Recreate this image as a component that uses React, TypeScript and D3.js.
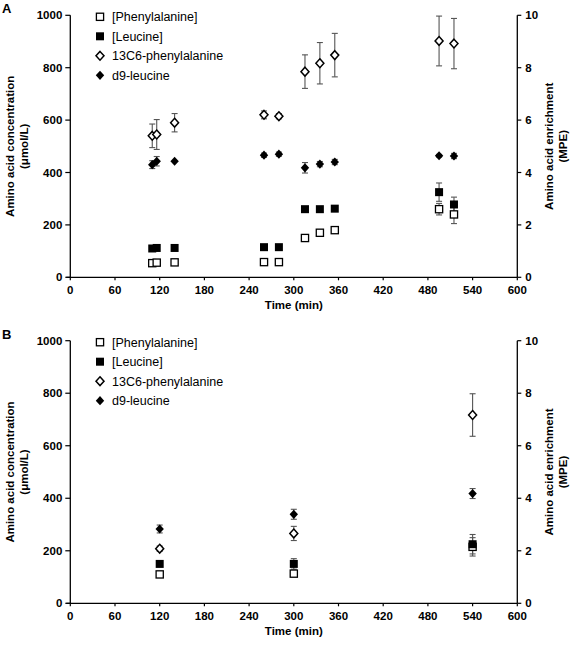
import React from "react";
import * as d3 from "d3";

// ---------- Data ----------
const seriesNames = ["[Phenylalanine]", "[Leucine]", "13C6-phenylalanine", "d9-leucine"];
const xTicks = [0, 60, 120, 180, 240, 300, 360, 420, 480, 540, 600];
const leftTicks = [0, 200, 400, 600, 800, 1000];
const rightTicks = [0, 2, 4, 6, 8, 10];

// Panel A
const timesA = [110, 116, 140, 260, 280, 315, 335, 355, 495, 515];
const pheA = [54, 56, 57, 58, 58, 150, 170, 180, 260, 240];
const pheAErr = [0, 0, 0, 0, 0, 0, 0, 0, 22, 35];
const leuA = [110, 112, 112, 115, 115, 260, 260, 262, 325, 278];
const leuAErr = [0, 0, 0, 0, 0, 0, 0, 8, 35, 28];
const c13A = [5.4, 5.45, 5.9, 6.2, 6.15, 7.85, 8.17, 8.48, 9.02, 8.92];
const c13AErr = [0.45, 0.57, 0.35, 0.15, 0.1, 0.64, 0.79, 0.83, 0.95, 0.96];
const d9A = [4.3, 4.43, 4.43, 4.66, 4.7, 4.18, 4.32, 4.4, 4.64, 4.63];
const d9AErr = [0.15, 0.18, 0, 0.08, 0.08, 0.2, 0.1, 0.1, 0.05, 0.1];

// Panel B
const timesB = [120, 300, 540];
const pheB = [110, 113, 215];
const pheBErr = [0, 0, 35];
const leuB = [150, 150, 225];
const leuBErr = [0, 20, 37];
const c13B = [2.08, 2.66, 7.17];
const c13BErr = [0.1, 0.27, 0.81];
const d9B = [2.83, 3.39, 4.18];
const d9BErr = [0.15, 0.19, 0.19];

const FONT = "'Liberation Sans', Arial, Helvetica, sans-serif";
const ERR_COLOR = "#555";

type Pt = { t: number; v: number; e: number };
const zip = (t: number[], v: number[], e: number[]): Pt[] => t.map((x, i) => ({ t: x, v: v[i], e: e[i] }));

function Marker({ kind, x, y }: { kind: number; x: number; y: number }) {
  if (kind === 0)
    return <rect x={x - 3.6} y={y - 3.6} width={7.2} height={7.2} fill="#fff" stroke="#000" strokeWidth={1.3} />;
  if (kind === 1) return <rect x={x - 4} y={y - 4} width={8} height={8} fill="#000" />;
  if (kind === 2)
    return (
      <path
        d={`M${x},${y - 4.4}L${x + 4},${y}L${x},${y + 4.4}L${x - 4},${y}Z`}
        fill="#fff"
        stroke="#000"
        strokeWidth={1.5}
      />
    );
  return <path d={`M${x},${y - 4.6}L${x + 4.2},${y}L${x},${y + 4.6}L${x - 4.2},${y}Z`} fill="#000" />;
}

function Panel({
  label,
  top,
  bottom,
  series,
}: {
  label: string;
  top: number;
  bottom: number;
  series: Pt[][];
}) {
  const left = 70.3;
  const right = 517.3;
  const x = d3.scaleLinear().domain([0, 600]).range([left, right]);
  const yL = d3.scaleLinear().domain([0, 1000]).range([bottom, top]);
  const yR = d3.scaleLinear().domain([0, 10]).range([bottom, top]);
  const mid = (top + bottom) / 2;
  const scales = [yL, yL, yR, yR];

  return (
    <g fontFamily={FONT}>
      <text x={2} y={top - 2} fontSize={13} fontWeight="bold">
        {label}
      </text>
      {/* axes */}
      <line x1={left} x2={left} y1={top} y2={bottom} stroke="#000" strokeWidth={1.3} />
      <line x1={right} x2={right} y1={top} y2={bottom} stroke="#000" strokeWidth={1.3} />
      <line x1={left - 4} x2={right} y1={bottom} y2={bottom} stroke="#000" strokeWidth={1.3} />
      {leftTicks.map((t) => (
        <g key={"l" + t}>
          <line x1={left - 5} x2={left} y1={yL(t)} y2={yL(t)} stroke="#000" strokeWidth={1.2} />
          <text x={left - 8} y={yL(t)} dy="0.35em" textAnchor="end" fontSize={11.5} fontWeight="bold">
            {t}
          </text>
        </g>
      ))}
      {rightTicks.map((t) => (
        <g key={"r" + t}>
          <line x1={right} x2={right + 4} y1={yR(t)} y2={yR(t)} stroke="#000" strokeWidth={1.2} />
          <text x={right + 8} y={yR(t)} dy="0.35em" textAnchor="start" fontSize={11.5} fontWeight="bold">
            {t}
          </text>
        </g>
      ))}
      {xTicks.map((t) => (
        <g key={"x" + t}>
          <line x1={x(t)} x2={x(t)} y1={bottom} y2={bottom + 3} stroke="#000" strokeWidth={1.2} />
          <text x={x(t)} y={bottom + 17} textAnchor="middle" fontSize={11.5} fontWeight="bold">
            {t}
          </text>
        </g>
      ))}
      {/* axis titles */}
      <text x={(left + right) / 2} y={bottom + 32} textAnchor="middle" fontSize={11.5} fontWeight="bold">
        Time (min)
      </text>
      <text
        transform={`translate(14,${mid}) rotate(-90)`}
        textAnchor="middle"
        fontSize={11.5}
        fontWeight="bold"
      >
        <tspan x={0} dy={0}>Amino acid concentration</tspan>
        <tspan x={0} dy={13.5}>(μmol/L)</tspan>
      </text>
      <text
        transform={`translate(553,${mid}) rotate(-90)`}
        textAnchor="middle"
        fontSize={11.5}
        fontWeight="bold"
      >
        <tspan x={0} dy={0}>Amino acid enrichment</tspan>
        <tspan x={0} dy={13.5}>(MPE)</tspan>
      </text>
      {/* legend */}
      {seriesNames.map((n, i) => {
        const ly = top + 1.5 + i * 19.5;
        return (
          <g key={n}>
            <Marker kind={i} x={100} y={ly} />
            <text x={112} y={ly} dy="0.35em" fontSize={12.5}>
              {n}
            </text>
          </g>
        );
      })}
      {/* error bars */}
      {series.map((s, si) =>
        s.map((p, i) =>
          p.e > 0 ? (
            <g key={`e${si}-${i}`} stroke={ERR_COLOR} strokeWidth={1.1}>
              <line x1={x(p.t)} x2={x(p.t)} y1={scales[si](p.v - p.e)} y2={scales[si](p.v + p.e)} />
              <line x1={x(p.t) - 3} x2={x(p.t) + 3} y1={scales[si](p.v + p.e)} y2={scales[si](p.v + p.e)} />
              <line x1={x(p.t) - 3} x2={x(p.t) + 3} y1={scales[si](p.v - p.e)} y2={scales[si](p.v - p.e)} />
            </g>
          ) : null
        )
      )}
      {/* markers */}
      {series.map((s, si) =>
        s.map((p, i) => <Marker key={`m${si}-${i}`} kind={si} x={x(p.t)} y={scales[si](p.v)} />)
      )}
    </g>
  );
}

export default function App() {
  const seriesA = [
    zip(timesA, pheA, pheAErr),
    zip(timesA, leuA, leuAErr),
    zip(timesA, c13A, c13AErr),
    zip(timesA, d9A, d9AErr),
  ];
  const seriesB = [
    zip(timesB, pheB, pheBErr),
    zip(timesB, leuB, leuBErr),
    zip(timesB, c13B, c13BErr),
    zip(timesB, d9B, d9BErr),
  ];
  return (
    <svg
      width={572}
      height={645}
      style={{ position: "absolute", left: 0, top: 0, background: "#fff" }}
    >
      <rect width={572} height={645} fill="#fff" />
      <Panel label="A" top={15.3} bottom={277.3} series={seriesA} />
      <Panel label="B" top={340.7} bottom={603.3} series={seriesB} />
    </svg>
  );
}
